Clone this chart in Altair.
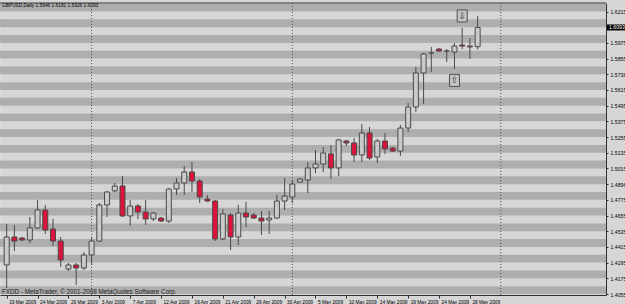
import altair as alt
import pandas as pd

# ---- data (GBPUSD Daily) ----
opens  = [1.4277,1.4491,1.4483,1.4468,1.4560,1.4697,1.4552,1.4460,1.4246,1.4277,
          1.4254,1.4353,1.4460,1.4736,1.4843,1.4881,1.4652,1.4728,1.4682,1.4629,
          1.4636,1.4613,1.4858,1.4904,1.4988,1.4919,1.4781,1.4766,1.4476,1.4659,
          1.4491,1.4674,1.4659,1.4636,1.4621,1.4636,1.4766,1.4797,1.4911,1.4927,
          1.5019,1.5049,1.5126,1.5019,1.5225,1.5210,1.5118,1.5286,1.5103,1.5225,
          1.5171,1.5148,1.5324,1.5485,1.5745,1.5898,1.5928,1.5913,1.5905,1.5959,
          1.5951,1.5946]
highs  = [1.4590,1.4583,1.4491,1.4644,1.4774,1.4736,1.4629,1.4491,1.4292,1.4292,
          1.4376,1.4491,1.4751,1.4843,1.4904,1.4957,1.4774,1.4743,1.4774,1.4682,
          1.4644,1.4866,1.4942,1.5034,1.5064,1.4934,1.4812,1.4774,1.4705,1.4674,
          1.4736,1.4759,1.4674,1.4690,1.4690,1.4812,1.4942,1.4927,1.4942,1.5064,
          1.5156,1.5179,1.5194,1.5240,1.5233,1.5248,1.5355,1.5332,1.5240,1.5286,
          1.5179,1.5347,1.5516,1.5791,1.5898,1.5944,1.5936,1.5928,1.5974,1.6089,
          1.6012,1.6181]
lows   = [1.4101,1.4384,1.4460,1.4445,1.4552,1.4514,1.4422,1.4262,1.4231,1.4124,
          1.4239,1.4277,1.4453,1.4644,1.4835,1.4644,1.4575,1.4629,1.4583,1.4613,
          1.4606,1.4598,1.4812,1.4812,1.4835,1.4751,1.4759,1.4460,1.4468,1.4392,
          1.4430,1.4567,1.4629,1.4506,1.4514,1.4629,1.4697,1.4751,1.4904,1.4827,
          1.4980,1.4988,1.4934,1.4957,1.5187,1.5064,1.5064,1.5080,1.5057,1.5126,
          1.5141,1.5110,1.5294,1.5447,1.5508,1.5753,1.5905,1.5829,1.5775,1.5928,
          1.5852,1.5926]
closes = [1.4491,1.4460,1.4468,1.4560,1.4697,1.4544,1.4460,1.4315,1.4277,1.4254,
          1.4353,1.4460,1.4736,1.4835,1.4881,1.4652,1.4728,1.4682,1.4629,1.4674,
          1.4613,1.4858,1.4904,1.4988,1.4919,1.4797,1.4766,1.4476,1.4667,1.4491,
          1.4674,1.4644,1.4636,1.4613,1.4636,1.4766,1.4804,1.4896,1.4934,1.5019,
          1.5049,1.5133,1.5019,1.5233,1.5210,1.5118,1.5286,1.5095,1.5225,1.5164,
          1.5148,1.5324,1.5485,1.5745,1.5890,1.5898,1.5913,1.5913,1.5951,1.5951,
          1.5944,1.6093]

date_labels = ["19 Mar 2009", "24 Mar 2009", "29 Mar 2009", "3 Apr 2009", "7 Apr 2009",
               "12 Apr 2009", "16 Apr 2009", "21 Apr 2009", "26 Apr 2009", "30 Apr 2009",
               "5 May 2009", "10 May 2009", "14 May 2009", "19 May 2009", "24 May 2009",
               "28 May 2009"]
price_ticks = [1.6215, 1.5975, 1.5855, 1.5736, 1.5615, 1.5495, 1.5375, 1.5255, 1.5135,
               1.5015, 1.4896, 1.4775, 1.4655, 1.4535, 1.4415, 1.4295, 1.4175, 1.4055]
grid_levels = [1.6335, 1.6215, 1.6095, 1.5975, 1.5855, 1.5735, 1.5615, 1.5495, 1.5375,
               1.5255, 1.5135, 1.5015, 1.4895, 1.4775, 1.4655, 1.4535, 1.4415, 1.4295,
               1.4175, 1.4055, 1.3935]
month_starts = [11, 37, 64]
current_price = [1.6093]
arrow_bars = [59, 58]
arrow_prices = [1.6181, 1.5688]
arrow_glyphs = ["\u21e9", "\u21e7"]
header = "GBPUSD,Daily  1.5946 1.6181 1.5926 1.6093"
footer = "FXDD - MetaTrader, \u00a9 2001-2008 MetaQuotes Software Corp."

# ---- frames ----
n = len(opens)
candles = pd.DataFrame({
    "i": list(range(n)), "open": opens, "high": highs, "low": lows, "close": closes,
})
candles["dir"] = ["down" if c < o else "up" for o, c in zip(opens, closes)]
half = (grid_levels[0] - grid_levels[1]) / 2
bands = pd.DataFrame({"lo": grid_levels, "hi": [g + half for g in grid_levels]})
seps = pd.DataFrame({"i": month_starts})
cur = pd.DataFrame({"p": current_price, "t": ["%.4f" % v for v in current_price]})
arrows = pd.DataFrame({"i": arrow_bars, "p": arrow_prices, "g": arrow_glyphs})

W, H = 606, 292
xs = alt.Scale(domain=[-0.217, 76.98], nice=False, zero=False)
ys = alt.Scale(domain=[1.40474, 1.62801], nice=False, zero=False)

label_arr = "[" + ",".join("'%s'" % d for d in date_labels) + "]"
x_axis = alt.Axis(values=[4 * k for k in range(len(date_labels))],
                  labelExpr=label_arr + "[round(datum.value/4)]",
                  labelAlign="left", labelOffset=2, labelPadding=1, labelFontSize=4.8,
                  labelColor="#000000", tickSize=3, tickColor="#303030",
                  domainColor="#303030", grid=False, title=None, labelFlush=False,
                  labelOverlap=False, labelBound=False)
y_axis = alt.Axis(orient="right", values=price_ticks, format=".4f", labelFontSize=5.2,
                  labelColor="#000000", labelPadding=2, tickSize=2, tickColor="#303030",
                  domainColor="#303030", grid=False, title=None, labelOverlap=False,
                  labelFlush=False)

base_x = alt.X("i:Q", scale=xs, axis=x_axis)

stripes = alt.Chart(bands).mark_rect(color="#AEAEAE", clip=True).encode(
    x=alt.value(0), x2=alt.value(W),
    y=alt.Y("lo:Q", scale=ys, axis=y_axis), y2="hi:Q")

sep = alt.Chart(seps).mark_rule(color="#505050", strokeDash=[1, 2], strokeWidth=1).encode(
    x=alt.X("i:Q", scale=xs, axis=x_axis), y=alt.value(0), y2=alt.value(H))

wicks = alt.Chart(candles).mark_rule(color="#4a4a4a", strokeWidth=1).encode(
    x=base_x, y=alt.Y("low:Q", scale=ys, axis=y_axis), y2="high:Q")

bodies = alt.Chart(candles).mark_bar(size=5, stroke="#4a4a4a", strokeWidth=1).encode(
    x=base_x, y=alt.Y("open:Q", scale=ys, axis=y_axis), y2="close:Q",
    fill=alt.Fill("dir:N", scale=alt.Scale(domain=["up", "down"],
                                           range=["#CACACA", "#DC143C"]), legend=None))

abox = alt.Chart(arrows).mark_rect(fill="#C4C4C4", stroke="#505050", strokeWidth=1,
                                   xOffset=-5, x2Offset=5, yOffset=-6, y2Offset=6).encode(
    x=base_x, x2="i:Q", y=alt.Y("p:Q", scale=ys, axis=y_axis), y2="p:Q")
aglyph = alt.Chart(arrows).mark_text(font="DejaVu Sans", fontSize=9, color="#404040",
                                     baseline="middle", align="center").encode(
    x=base_x, y=alt.Y("p:Q", scale=ys, axis=y_axis), text="g:N")

curbox = alt.Chart(cur).mark_rect(color="#000000", yOffset=-3, y2Offset=3).encode(
    x=alt.value(W + 1), x2=alt.value(W + 19),
    y=alt.Y("p:Q", scale=ys, axis=y_axis), y2="p:Q")
curtxt = alt.Chart(cur).mark_text(color="#FFFFFF", fontSize=5.2, align="left",
                                  baseline="middle").encode(
    x=alt.value(W + 3), y=alt.Y("p:Q", scale=ys, axis=y_axis), text="t:N")

toprule = alt.Chart(cur).mark_rule(color="#303030").encode(
    x=alt.value(0), x2=alt.value(W), y=alt.value(0))

head = alt.Chart(cur).mark_text(text=header, fontSize=4.8, align="left", baseline="middle",
                                color="#000000").encode(x=alt.value(2), y=alt.value(2.5))
foot = alt.Chart(cur).mark_text(text=footer, fontSize=6.3, align="left",
                                baseline="alphabetic", color="#202020").encode(
    x=alt.value(2), y=alt.value(H - 1))

chart = alt.layer(stripes, sep, wicks, bodies, abox, aglyph, curbox, curtxt, toprule,
                  head, foot).properties(
    width=W, height=H,
    autosize=alt.AutoSizeParams(type="none"),
    padding={"left": 0, "top": 3, "right": 19, "bottom": 9},
    background="#D6D6D6",
).configure_view(fill="#C2C2C2", stroke=None).configure(font="Liberation Sans")

chart.save("out.html", embed_options={"renderer": "svg", "actions": False})
